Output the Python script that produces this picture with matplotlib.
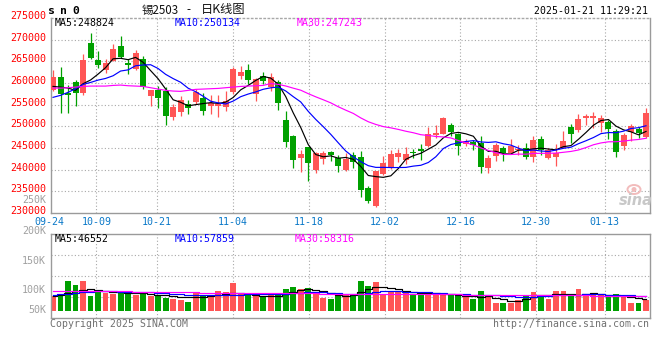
import matplotlib
matplotlib.use("Agg")
import matplotlib.pyplot as plt
import matplotlib.transforms as mtransforms
from matplotlib.patches import Ellipse

# ---------------- data ----------------
DATES = ["09-24", "09-25", "09-26", "09-27", "09-30",
         "10-08", "10-09", "10-10", "10-11", "10-14", "10-15", "10-16", "10-17", "10-18",
         "10-21", "10-22", "10-23", "10-24", "10-25", "10-28", "10-29", "10-30", "10-31",
         "11-01", "11-04", "11-05", "11-06", "11-07", "11-08", "11-11", "11-12", "11-13",
         "11-14", "11-15", "11-18", "11-19", "11-20", "11-21", "11-22", "11-25", "11-26",
         "11-27", "11-28", "11-29",
         "12-02", "12-03", "12-04", "12-05", "12-06", "12-09", "12-10", "12-11", "12-12",
         "12-13", "12-16", "12-17", "12-18", "12-19", "12-20", "12-23", "12-24", "12-25",
         "12-26", "12-27", "12-30", "12-31",
         "01-02", "01-03", "01-06", "01-07", "01-08", "01-09", "01-10", "01-13", "01-14",
         "01-15", "01-16", "01-17", "01-20", "01-21"]

OPEN = [258370, 261440, 257680, 260130, 257680, 269180, 265350, 263050, 265190, 268560,
        264730, 263200, 265500, 257070, 258450, 258220, 252160, 253240, 255230, 255540,
        256530, 254620, 254770, 254460, 257910, 261510, 263050, 257450, 261670, 258980,
        260130, 251400, 247720, 242590, 245190, 239900, 242360, 244190, 242660, 239980,
        243350, 242970, 235690, 231700, 238910, 240520, 242820, 242200, 244190, 244880,
        245420, 248030, 248330, 250250, 248180, 245880, 246490, 246260, 240290, 243200,
        245110, 243740, 244500, 245110, 242970, 247180, 242660, 242820, 245110, 249940,
        249100, 251860, 251860, 250860, 251010, 248950, 245420, 248720, 249480, 247570]
HIGH = [262890, 263740, 259600, 260590, 266720, 271470, 267410, 265650, 269020, 270860,
        265500, 267640, 266260, 258450, 259210, 259060, 255230, 257070, 256150, 258600,
        257760, 257300, 257300, 258070, 263660, 263810, 264430, 261130, 262430, 262280,
        260590, 253620, 248030, 244500, 245270, 244190, 244420, 244350, 243350, 243960,
        244190, 244350, 236300, 239750, 243050, 244650, 244730, 245270, 244730, 246030,
        249940, 250330, 252160, 250860, 248560, 247030, 246800, 247800, 243350, 246260,
        245500, 247030, 245730, 246190, 247720, 247870, 245110, 245880, 248950, 250480,
        252930, 252780, 253310, 252620, 251470, 249330, 248560, 250480, 249870, 254310]
LOW = [258140, 253160, 253080, 254770, 257150, 265570, 263430, 262360, 265040, 265730,
       262050, 263050, 258600, 254620, 254230, 250400, 251550, 252470, 252930, 255230,
       252700, 252780, 252160, 253470, 257450, 260980, 259830, 255840, 259750, 258070,
       253850, 245270, 240290, 239370, 237380, 239290, 241280, 242050, 239520, 239750,
       240290, 233620, 232240, 231320, 238750, 240130, 241670, 241280, 242660, 242200,
       245270, 247410, 248180, 247800, 243430, 245500, 244500, 239210, 239210, 242050,
       242050, 243580, 243430, 242430, 241670, 243350, 242510, 240820, 244960, 246190,
       248790, 250330, 249710, 248720, 247030, 242820, 244500, 246650, 247410, 247410]
CLOSE = [261440, 257380, 257300, 257680, 265350, 265730, 264200, 264730, 267870, 265960,
         264120, 266880, 259060, 258300, 256530, 252320, 254460, 256150, 254230, 257840,
         253620, 255460, 255230, 255770, 263200, 262430, 260590, 260980, 260360, 261280,
         255380, 246340, 242200, 243510, 241510, 243890, 243740, 243280, 240820, 242360,
         241820, 235380, 232850, 239600, 241510, 243580, 243740, 243580, 243740, 244270,
         248330, 248560, 251860, 248790, 245500, 246650, 245730, 240520, 242660, 245650,
         243740, 245500, 244880, 242970, 246950, 244500, 244500, 243960, 246650, 248180,
         251780, 252320, 252390, 252010, 249330, 244190, 248030, 250100, 248560, 253080]

MA5 = [259210, 259060, 258830, 258300, 259830, 260690, 262050, 263540, 265580, 265700,
       265380, 265910, 264780, 262860, 260980, 258620, 256130, 255550, 254740, 255000,
       255260, 255460, 255280, 255580, 256660, 258420, 259440, 260590, 261510, 261130,
       259720, 256870, 253110, 249740, 245790, 243490, 242970, 243190, 242650, 242820,
       242400, 240730, 238650, 238400, 238230, 238580, 240260, 242400, 243230, 243780,
       244730, 245700, 247350, 248360, 248610, 248270, 247710, 245440, 244210, 244240,
       243660, 243610, 244490, 244550, 244810, 244960, 244760, 244580, 245310, 245560,
       247010, 248580, 250260, 251340, 251570, 250050, 249190, 248730, 248040, 248820]
MA10 = [256690, 257150, 257840, 258680, 259670, 260130, 260670, 261050, 261670, 262760,
        263030, 263980, 264160, 264220, 263340, 262000, 261020, 260170, 258800, 257990,
        256940, 255800, 255410, 255160, 255830, 256840, 257450, 257940, 258550, 258890,
        259070, 258160, 256850, 255630, 253460, 251600, 249920, 248150, 246200, 244300,
        242950, 241850, 240920, 240530, 240530, 240490, 240490, 240520, 240820, 241010,
        241660, 242980, 244880, 245800, 246200, 246500, 246700, 246400, 246290, 246430,
        245970, 245660, 244960, 244380, 244530, 244310, 244190, 244530, 244930, 245180,
        245990, 246670, 247420, 248320, 248560, 248530, 248880, 249500, 249690, 250130]
MA30 = [258830, 258830, 258910, 259060, 259210, 259290, 259290, 259290, 259440, 259520,
        259370, 259290, 259210, 258910, 258600, 258300, 258140, 258070, 258300, 258530,
        258600, 258680, 258750, 258910, 259060, 259210, 259290, 259370, 259440, 259880,
        259680, 259310, 258810, 258340, 257540, 256810, 256130, 255420, 254520, 253730,
        252980, 251940, 251060, 250440, 249940, 249650, 249290, 248870, 248520, 248070,
        247890, 247660, 247550, 247320, 246730, 246200, 245710, 245020, 244430, 243910,
        243520, 243500, 243590, 243570, 243750, 243770, 243790, 243820, 244010, 244210,
        244540, 245100, 245750, 246170, 246430, 246450, 246590, 246810, 246970, 247240]

VOLUME_K = [56, 62, 117, 101, 117, 58, 75, 69, 66, 69,
            69, 62, 69, 58, 56, 49, 45, 43, 34, 69,
            56, 62, 78, 73, 108, 65, 69, 56, 53, 62,
            62, 85, 92, 85, 88, 75, 49, 45, 56, 62,
            65, 117, 98, 112, 64, 72, 72, 69, 66, 73,
            66, 62, 69, 66, 58, 56, 47, 78, 56, 30,
            30, 30, 43, 62, 73, 62, 46, 77, 77, 59,
            85, 58, 62, 64, 55, 64, 55, 29, 29, 42]
VOL_MA5 = [56, 60, 68, 76, 82, 84, 82, 78, 75, 72,
           70, 69, 68, 66, 63, 60, 56, 53, 52, 54,
           55, 58, 62, 66, 70, 68, 66, 62, 58, 56,
           58, 66, 74, 80, 84, 82, 76, 68, 62, 58,
           60, 72, 84, 92, 92, 88, 84, 78, 72, 70,
           69, 68, 66, 64, 62, 58, 56, 55, 56, 50,
           44, 40, 40, 45, 52, 60, 62, 64, 66, 64,
           62, 66, 68, 64, 62, 60, 56, 52, 48, 46.6]
VOL_MA10 = [62, 64, 66, 69, 72, 75, 76, 76, 76, 75,
            75, 74, 73, 72, 70, 68, 66, 64, 62, 62,
            61, 61, 61, 62, 63, 63, 64, 64, 64, 64,
            65, 66, 68, 70, 72, 72, 72, 70, 68, 66,
            64, 66, 70, 74, 76, 76, 76, 74, 72, 72,
            72, 70, 68, 66, 66, 64, 62, 62, 62, 60,
            58, 56, 54, 54, 54, 56, 58, 60, 62, 62,
            63, 64, 64, 64, 63, 62, 61, 60, 59, 57.9]
VOL_MA30 = [78, 78, 78, 77, 77, 77, 77, 76, 76, 76,
            76, 75, 75, 74, 74, 73, 73, 72, 72, 72,
            71, 71, 70, 70, 70, 69, 69, 69, 68, 68,
            68, 68, 68, 68, 68, 68, 67, 67, 67, 66,
            66, 66, 66, 66, 66, 66, 65, 65, 65, 65,
            65, 64, 64, 64, 64, 63, 63, 63, 63, 62,
            62, 62, 62, 62, 62, 61, 61, 61, 60, 60,
            60, 60, 59, 59, 59, 59, 59, 58.5, 58.4, 58.3]

PRICE_TICKS = [275000, 270000, 265000, 260000, 255000, 250000, 245000, 240000, 235000, 230000]
DATE_TICKS = ["09-24", "10-09", "10-21", "11-04", "11-18", "12-02", "12-16", "12-30", "01-13"]
VOL_TICK_LABELS = ["250K", "200K", "150K", "100K", "50K"]
CODE = "sn0"
TITLE = "锡2503 - 日K线图"
TIMESTAMP = "2025-01-21 11:29:21"
PRICE_MA_LABELS = ["MA5:248824", "MA10:250134", "MA30:247243"]
VOL_MA_LABELS = ["MA5:46552", "MA10:57859", "MA30:58316"]
COPYRIGHT = "Copyright 2025 SINA.COM"
URL = "http://finance.sina.com.cn"

# ---------------- style ----------------
W, H = 660, 360
RED = "#ff5555"
GREEN = "#00a000"
GRID = "#a8a8a8"
BORDER = "#9a9a9a"
MONO = "DejaVu Sans Mono"
CJK = ["Noto Sans CJK SC", "DejaVu Sans"]
MA_COLORS = ["#000000", "#0000ff", "#ff00ff"]
DOT = (0, (1, 2))

fig = plt.figure(figsize=(W / 100, H / 100), dpi=100)
fig.patch.set_facecolor("white")


def rect(x0, y0, x1, y1):
    return [x0 / W, 1 - y1 / H, (x1 - x0) / W, (y1 - y0) / H]


def ftext(x, y, s, **kw):
    fig.text(x / W, 1 - y / H, s, **kw)


axp = fig.add_axes(rect(51, 18, 650, 213))
axv = fig.add_axes(rect(51, 234.3, 650, 318.3))

n = len(CLOSE)
x = list(range(n))
up = [c >= o for o, c in zip(OPEN, CLOSE)]
colors = [RED if u else GREEN for u in up]

for ax in (axp, axv):
    ax.set_xlim(-0.27, n - 1 + 0.53)
    ax.set_xticks([])
    ax.set_yticks([])
    for s in ax.spines.values():
        s.set_color(BORDER)
        s.set_linewidth(1.0)
    # vertical date grid lines
    for d in DATE_TICKS[1:]:
        f = DATES.index(d) / (n - 1)
        ax.plot([f, f], [0, 1], transform=ax.transAxes, color=GRID, lw=0.8,
                ls=DOT, zorder=0.5)

axp.spines["top"].set_linestyle(DOT)
axp.spines["top"].set_color(GRID)

# ---------------- price panel ----------------
axp.set_ylim(PRICE_TICKS[-1], PRICE_TICKS[0])
for p in PRICE_TICKS[1:-1]:
    axp.axhline(p, color=GRID, lw=0.8, ls=DOT, zorder=0.5)

axp.vlines(x, LOW, HIGH, colors=colors, lw=0.9, zorder=2)
bottoms = [min(o, c) for o, c in zip(OPEN, CLOSE)]
heights = [max(abs(c - o), 240) for o, c in zip(OPEN, CLOSE)]
axp.bar(x, heights, bottom=bottoms, width=0.8, color=colors, linewidth=0, zorder=3)

for series, col in zip((MA5, MA10, MA30), MA_COLORS):
    axp.plot(x, series, color=col, lw=0.85, zorder=4)

lbl_tr = mtransforms.blended_transform_factory(axp.transAxes, axp.transData) + \
    mtransforms.ScaledTranslation(0, 0.02, fig.dpi_scale_trans)
for p in PRICE_TICKS:
    axp.text(-5 / 599, p, str(p), transform=lbl_tr, ha="right", va="center",
             color="#ff0000", fontsize=7.2, family=MONO, clip_on=False)

for d in DATE_TICKS:
    f = DATES.index(d) / (n - 1)
    ftext(51 + 599 * f - (2 if f == 0 else 0), 222, d, ha="center", va="center",
          color="#0a78c8", fontsize=7.2, family=MONO)

for lab, col, xp in zip(PRICE_MA_LABELS, MA_COLORS, (55, 175, 296.5)):
    ftext(xp, 23.5, lab, ha="left", va="center", color=col, fontsize=7.1, family=MONO)

# ---------------- volume panel ----------------
axv.set_ylim(-29.8, 299.6)
for f in (0.25, 0.5, 0.75):
    axv.plot([0, 1], [f, f], transform=axv.transAxes, color=GRID, lw=0.8, ls=DOT, zorder=0.5)
axv.bar(x, VOLUME_K, width=0.78, color=colors, linewidth=0, zorder=2)
for series, col in zip((VOL_MA5, VOL_MA10, VOL_MA30), MA_COLORS):
    axv.plot(x, series, color=col, lw=0.85, drawstyle="steps-mid", zorder=3)

for lab, col, xp in zip(VOL_MA_LABELS, MA_COLORS, (55, 175, 295)):
    ftext(xp, 238.5, lab, ha="left", va="center", color=col, fontsize=7.1, family=MONO)

for lab, yp in zip(VOL_TICK_LABELS, (200, 230.7, 260.8, 290, 310.3)):
    ftext(46, yp, lab, ha="right", va="center", color="#a0a0a0", fontsize=7.2, family=MONO)

# ---------------- header / footer ----------------
for k, ch in enumerate(CODE):
    ftext(48 + 12.2 * k, 11, ch, ha="left", va="center", color="black",
          fontsize=8.2, family=MONO, fontweight="bold")

name, chart = TITLE.split(" - ")
ftext(141.5, 10, name, ha="left", va="center", fontsize=8.3, family=CJK, color="#111111")
ftext(188, 10, "-", ha="center", va="center", fontsize=8.3, family=CJK, color="#111111")
ftext(201, 10, chart, ha="left", va="center", fontsize=8.8, family=CJK, color="#111111")

ftext(648.5, 11.5, TIMESTAMP, ha="right", va="center", color="black", fontsize=7.1, family=MONO)
ftext(50, 324, COPYRIGHT, ha="left", va="center", color="#707070", fontsize=7.1, family=MONO)
ftext(649, 324, URL, ha="right", va="center", color="#707070", fontsize=7.1, family=MONO)

# sina watermark
fig.add_artist(Ellipse((634 / W, 1 - 189.5 / H), 13 / W, 9 / H, transform=fig.transFigure,
                       facecolor="none", edgecolor="#f2bcbc", lw=1.4))
fig.add_artist(Ellipse((634 / W, 1 - 189.5 / H), 5 / W, 5 / H, transform=fig.transFigure,
                       facecolor="#f2bcbc", edgecolor="none"))
ftext(636, 200.5, "sina", ha="center", va="center", color="#c8c8c8", fontsize=10.5,
      fontweight="bold", style="italic", family="DejaVu Sans")

fig.savefig("out.png", dpi=100, facecolor="white")
